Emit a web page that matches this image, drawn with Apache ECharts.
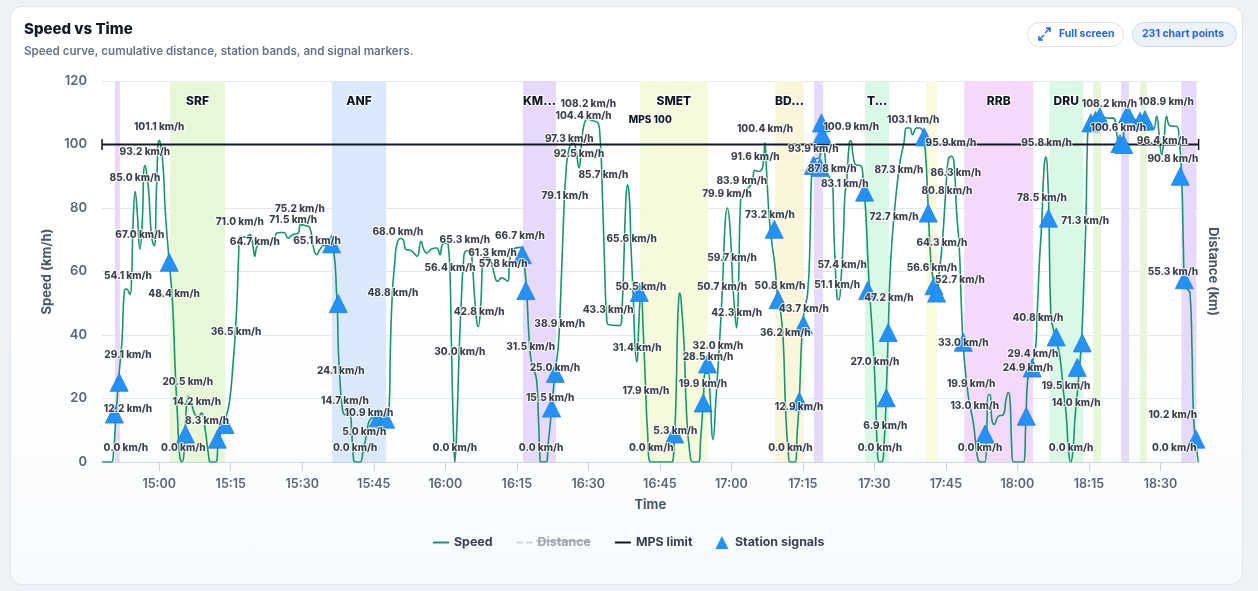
<!DOCTYPE html>
<html>
<head>
<meta charset="utf-8">
<title>Speed vs Time</title>
<style>
  html, body { margin: 0; padding: 0; width: 100%; height: 100%; background: #eef2f6; overflow: hidden; }
  #card { position: absolute; left: 10px; top: 6px; width: 1233px; height: 579px; box-sizing: border-box;
    border: 1px solid #dfe6ef; border-radius: 12px; background: linear-gradient(180deg, #ffffff 0%, #ffffff 55%, #f8fbfe 100%); }
  #chart { position: absolute; left: 0; top: 0; width: 1258px; height: 591px; }
</style>
<script src="https://cdn.jsdelivr.net/npm/echarts@6/dist/echarts.min.js"></script>
</head>
<body>
<div id="card"></div>
<div id="chart"></div>
<script>
// All times are minutes after 14:00.
const axisStartMinute = 48;
const axisEndMinute = 278;
const tickMinutes = [60, 75, 90, 105, 120, 135, 150, 165, 180, 195, 210, 225, 240, 255, 270];
const speedLimit = 100;
const limitLabelMinute = 163;

const speedMinutes = [
  48, 50, 50.4, 50.9, 51.6, 52.2, 52.7, 53.15, 53.85, 54.2, 54.5, 54.97, 55.4, 55.95, 56.4, 57, 57.7, 58.4, 58.95, 59.45,
  60, 60.7, 61.3, 62, 62.8, 63.35, 63.8, 64.3, 64.8, 65.25, 65.7, 66.1, 66.65, 67.35, 68.2, 68.9, 69.6, 70.3, 70.8, 71.8,
  72.4, 72.9, 73.8, 74.7, 75.5, 76, 76.35, 76.65, 76.9, 77.6, 78.3, 79, 79.6, 80.05, 80.55, 82, 83.5, 84.25, 84.6, 85.65,
  86.15, 87.05, 87.95, 89.15, 89.65, 90.55, 91.6, 92.3, 93, 93.7, 94.4, 95.8, 96.65, 97.2, 97.4, 97.55, 97.9, 98.45, 98.95, 100,
  100.35, 100.7, 101.05, 102.1, 102.8, 103.5, 104.2, 108.2, 108.5, 108.9, 109.4, 109.9, 110.7, 111.2, 111.75, 112.7, 113.4, 114.1, 114.9, 115.5,
  116.1, 117.1, 118.2, 118.9, 119.4, 120.3, 120.6, 120.97, 121.3, 121.7, 122, 122.4, 122.9, 123.4, 123.75, 124.25, 125.2, 125.7, 126.2, 126.9,
  127.4, 127.75, 127.95, 129, 129.7, 130.4, 130.95, 131.8, 133.1, 133.55, 134.25, 135.65, 136.15, 136.7, 137.05, 137.6, 138.1, 139.15, 139.5, 139.85,
  140, 141.1, 141.6, 142.3, 143, 143.7, 144.2, 144.8, 145.3, 146, 146.9, 147.35, 148.05, 148.6, 149.1, 149.85, 150.7, 152.1, 152.45, 152.8,
  153.5, 153.85, 154.2, 156.65, 157.1, 157.5, 157.85, 158.2, 158.6, 158.95, 159.45, 159.8, 160.2, 160.55, 160.85, 161.1, 161.5, 161.95, 162.4, 163.1,
  167.5, 168, 168.4, 168.7, 169, 169.2, 169.6, 170.1, 170.6, 171.3, 171.9, 173.1, 173.55, 174.1, 174.6, 175.2, 175.5, 176.15, 176.8, 177.6,
  178.2, 178.7, 179.15, 179.7, 180.25, 180.75, 181.1, 181.5, 181.95, 183.2, 184.3, 184.95, 185.65, 186.35, 186.7, 187.05, 187.4, 188.1, 189.15, 189.7,
  190.3, 190.9, 191.4, 191.95, 192.3, 193.35, 193.8, 194.25, 194.75, 195.2, 196, 196.5, 196.85, 197.5, 198.45, 199.1, 199.65, 200, 200.7, 201.25,
  201.5, 201.8, 202.2, 202.55, 203, 203.5, 203.8, 204.2, 204.75, 205.1, 205.55, 206.15, 207.2, 207.65, 208.2, 208.7, 209.2, 209.75, 210.25, 210.6,
  211, 211.5, 212, 212.55, 212.9, 213.4, 214.3, 215.35, 216.2, 216.75, 217.45, 218, 218.85, 219.55, 220.25, 220.8, 221.15, 221.65, 222, 222.35,
  222.9, 223.75, 224.3, 225, 225.5, 226.2, 226.7, 227.25, 227.8, 228.3, 228.8, 229.7, 230.75, 231.6, 232.15, 233.2, 233.55, 233.9, 234.25, 234.65,
  235.1, 236, 237.05, 237.6, 238.1, 238.45, 238.8, 239.15, 241.25, 241.75, 242.15, 243, 243.7, 244.15, 244.6, 245.1, 245.6, 246, 246.35, 246.6,
  247, 247.9, 248.9, 249.6, 250.2, 250.7, 251.15, 251.6, 252.05, 252.8, 253.45, 253.95, 254.4, 254.65, 255, 256.25, 257.3, 259.05, 260.1, 260.8,
  261.5, 262.05, 262.55, 263.05, 264.3, 265, 265.7, 266.75, 267.8, 268.5, 269.2, 269.75, 270.25, 270.75, 271.3, 272, 273.4, 273.95, 274.45, 274.8,
  275, 275.5, 276.2, 276.6, 276.9, 277.25, 277.95
];
const speedValues = [
  0, 0, 2.8, 13.9, 28, 38.5, 54.1, 54.5, 52.7, 57.4, 74.2, 85.2, 78.4, 67.1, 74.2, 93.4, 86.8, 71, 68.1, 86.8,
  101.3, 95.2, 78.4, 64.8, 50, 29, 15.4, 1.8, 0, 3.9, 17.5, 20.7, 19.6, 15.4, 14.4, 15.4, 10.7, 2.8, 0, 0,
  6, 9.1, 13.3, 18.6, 31.2, 41.7, 52.2, 64.8, 71.1, 70.8, 70.9, 71.6, 68.5, 64.8, 68, 69, 69, 70, 72.1, 72.3,
  72.3, 70.5, 71.6, 72.1, 74.75, 74.5, 73.7, 67.9, 65.3, 66.9, 68.1, 68.4, 65.8, 53.2, 46.9, 36.4, 25.9, 16.5, 14.9, 14.8,
  10.2, 1.8, 0, 0, 3.9, 8.6, 13.3, 16.5, 36.4, 53.2, 62.7, 69, 70.4, 70, 66.9, 66.7, 65.8, 64.8, 69.5, 66.9,
  65.8, 67.1, 67.4, 65.3, 68.5, 69, 68.5, 60.6, 36.4, 10.2, 0, 10.2, 34.3, 52.2, 61.6, 66.4, 66.6, 61.6, 51.1, 42.7,
  48, 61.6, 64.3, 64.3, 62.7, 58.5, 56.9, 58, 56.9, 63.7, 66.9, 67.6, 66.9, 60.6, 54.3, 38.5, 31.2, 25.9, 15.4, 1.8,
  0, 0, 6, 16.5, 28, 36.4, 52.2, 76.3, 91, 98.9, 100.5, 98.9, 92.6, 100.5, 106.2, 108, 107.6, 106.6, 102.6, 92,
  57.4, 45.4, 43.3, 43, 49, 65.8, 81.6, 87.3, 83.7, 67.9, 51.1, 36.4, 31.5, 41.7, 51.1, 52.2, 41.7, 25.9, 10.2, 0,
  0, 6.5, 20.7, 41.7, 52.2, 53.2, 48, 36.4, 15.4, 2.8, 0, 0, 7, 18.6, 28, 28, 21.7, 7.2, 20.7, 39.6,
  57.4, 75.3, 80, 74.2, 57.4, 46.9, 42.2, 55.3, 82.6, 85.6, 87.9, 91.9, 91.5, 92, 94.2, 100.5, 91, 74.2, 61.6, 52.2,
  48, 37.5, 15.4, 2.8, 0, 0, 9.1, 19.6, 38.5, 46.9, 53.2, 70, 91, 95.4, 95.8, 103.1, 96.3, 91.5, 89.4, 87.9,
  73.2, 61.6, 51.7, 51.1, 57.4, 71.1, 83.7, 88.9, 100.5, 101.2, 96.3, 93.6, 93.3, 88.9, 78.4, 61.6, 49, 36.4, 20.7, 4.9,
  0, 0, 4.9, 23.8, 40.6, 62.7, 80.5, 94.2, 100.5, 105.2, 105.2, 103.1, 105.2, 105.2, 103.1, 95.2, 84.7, 67.9, 60.6, 57.4,
  52.2, 61.6, 70, 85.8, 95.2, 96.3, 94.2, 78.4, 67.9, 46.9, 33.3, 20.7, 12.3, 1.8, 0, 0, 9.1, 21.2, 21.2, 13.3,
  11.8, 14.4, 14.9, 19.6, 21.9, 19.6, 4.9, 0, 0, 12.3, 25.9, 31.2, 34.3, 46.9, 62.7, 75.3, 93.1, 96.1, 90, 78.4,
  46.9, 39.6, 33.3, 22.8, 15.4, 3.9, 0, 2.8, 13.3, 25.9, 38.5, 57.4, 78.4, 99.4, 107.3, 108.3, 108.9, 108.3, 108.3, 103.6,
  99.4, 100.5, 107.8, 108.9, 108.3, 107.3, 106.8, 107.8, 104.7, 104.7, 108.9, 102.6, 96.8, 101.5, 108.9, 105.9, 105.7, 101.5, 90, 67.9,
  57.4, 54.8, 53.2, 36.4, 15.4, 8.1, 0
];

const signalMinutes = [
  50.6, 51.6, 62.1, 65.5, 72.2, 73.8, 96.15, 97.55, 105.95, 107.5, 136.15, 136.9, 142.3, 143.1, 160.7, 168.1, 174.1, 175,
  189, 189.8, 195.1, 194.25, 199.05, 198.9, 197.2, 198.6, 207.95, 208.6, 212.9, 212.5, 220.45, 221.3, 222.5, 223.05, 228.65,
  233.2, 241.85, 243.1, 246.5, 248.15, 252.55, 253.6, 255.4, 256.4, 257.3, 263.1, 261.5, 262.3, 266.75, 265.7, 274.15, 275, 277.45
];
const signalValues = [
  15.1, 25.1, 62.9, 8.8, 7.2, 11.8, 68.7, 49.9, 13.9, 13.5, 65.3, 54, 17, 27.9, 53.4, 8.8, 18.6, 30.9,
  73.3, 51.1, 43.2, 19.1, 103.1, 106.8, 93.4, 92.8, 85, 54, 40.8, 20.2, 102.4, 78.4, 55.5, 53.2, 37.7,
  8.8, 14.4, 29.6, 76.8, 39.4, 29.8, 37.5, 106.8, 107.6, 108.7, 109.6, 100.3, 100, 107.8, 107.3, 90, 57.4, 7.2
];

const labelMinutes = [
  53, 53.45, 53.45, 53.45, 55.95, 54.9, 57, 60, 63.1, 66, 67.9, 70.05, 65.05, 76.1, 76.9, 80.05, 88.1, 89.5, 93.1,
  98.1, 98.95, 104, 103, 101.1, 109, 110.05, 121, 123.05, 122, 124.1, 127.1, 129.9, 132.15, 135.65, 137.9,
  144, 143, 142, 140.1, 145.1, 146, 148.05, 149, 150, 153.15, 154.15, 159.1, 161.05, 160.2, 162.1, 163.2, 168.25,
  174.05, 175.1, 177.2, 178.05, 180.15, 181.1, 179.1, 182.2, 185, 187.05, 188.1, 190.2, 195.2, 191.3, 194.2, 192.4,
  197.2, 201.15, 203.8, 205.15, 203.25, 202.2, 213.05, 210.1, 212.3, 211.15, 214.1, 215.15, 218.15, 226.05, 225.2, 224.15, 222.05, 227.95, 227.1, 228.65,
  230.3, 231.05, 232.15, 246.1, 245.15, 244.3, 243.25, 242.2, 254.2, 250.2, 252.3, 251.25, 259.3, 261.15, 271.2, 270.4, 272.6, 272.6, 272.6, 272.9
];
const labelValues = [
  0, 12.2, 29.1, 54.1, 67, 85, 93.2, 101.1, 48.4, 20.5, 14.2, 8.3, 0, 36.5, 71, 64.7, 71.5, 75.2, 65.1,
  24.1, 14.7, 10.9, 5, 0, 48.8, 68, 56.4, 30, 0, 65.3, 42.8, 61.3, 57.8, 66.7, 31.5,
  38.9, 25, 15.5, 0, 79.1, 97.3, 92.5, 104.4, 108.2, 85.7, 43.3, 65.6, 50.5, 31.4, 17.9, 0, 5.3,
  19.9, 28.5, 32, 50.7, 59.7, 42.3, 79.9, 83.9, 91.6, 100.4, 73.2, 50.8, 43.7, 36.2, 12.9, 0,
  93.9, 87.8, 83.1, 100.9, 57.4, 51.1, 47.2, 27, 6.9, 0, 72.7, 87.3, 103.1, 95.9, 80.8, 64.3, 56.6, 52.7, 86.3, 33,
  19.9, 13, 0, 95.8, 78.5, 40.8, 29.4, 24.9, 71.3, 19.5, 14, 0, 108.2, 100.6, 108.9, 96.4, 90.8, 55.3, 10.2, 0
];

const bandNames = ['', 'SRF', 'ANF', 'KM...', 'SMET', 'BD...', '', 'T...', '', 'RRB', 'DRU', '', '', '', ''];
const bandStarts = [50.7, 62.25, 96.25, 136.3, 160.85, 189.2, 197.35, 208.05, 220.85, 228.85, 246.7, 255.9, 261.75, 265.7, 274.4];
const bandEnds = [51.75, 73.8, 107.55, 143.2, 175.05, 195.2, 199.25, 213.1, 223.15, 243.3, 253.8, 257.55, 263.4, 267.15, 277.55];
const bandColors = ['#ead8fb', '#e6f8d8', '#d9e8fb', '#e6d9fb', '#f4fadb', '#f9f6dc', '#e6d9fb', '#daf8e6', '#fafadc', '#f5d9fb', '#daf8e6', '#e6f8d8', '#e6d9fb', '#e6f8d8', '#e6d9fb'];

const FONT = 'Inter, "Noto Sans", sans-serif';
const two = n => String(n).padStart(2, '0');

const chart = echarts.init(document.getElementById('chart'), null, { renderer: 'canvas' });

const iconStroke = { fill: 'none', stroke: '#2563eb', lineWidth: 1.5 };

chart.setOption({
  animation: false,
  backgroundColor: 'transparent',
  textStyle: { fontFamily: FONT },
  title: {
    text: 'Speed vs Time',
    subtext: 'Speed curve, cumulative distance, station bands, and signal markers.',
    left: 24, top: 22, padding: 0, itemGap: 9,
    textStyle: { fontFamily: FONT, fontSize: 15, fontWeight: 800, color: '#111827' },
    subtextStyle: { fontFamily: FONT, fontSize: 11.6, fontWeight: 600, color: '#64748b' }
  },
  grid: { left: 102, top: 81, width: 1096.6, height: 381, containLabel: false },
  legend: {
    bottom: 37, left: 427, itemWidth: 16, itemHeight: 13, itemGap: 23,
    textStyle: { fontFamily: FONT, fontSize: 12.4, fontWeight: 700, color: '#374151' },
    inactiveColor: '#9ca3af', inactiveBorderColor: '#9ca3af',
    selected: { Distance: false },
    data: [
      { name: 'Speed', itemStyle: { opacity: 0 } },
      { name: 'Distance', itemStyle: { opacity: 0 }, lineStyle: { type: [6, 4], width: 1.8 } },
      { name: 'MPS limit', itemStyle: { opacity: 0 } },
      { name: 'Station signals', icon: 'path://M1 13L7.5 0L14 13Z', itemStyle: { borderWidth: 0 } }
    ]
  },
  xAxis: {
    type: 'value', min: axisStartMinute, max: axisEndMinute,
    name: 'Time', nameLocation: 'middle', nameGap: 37,
    nameTextStyle: { fontFamily: FONT, fontSize: 13, fontWeight: 700, color: '#475569' },
    axisLine: { onZero: false, lineStyle: { color: '#cbd5e1', width: 1 } },
    axisTick: { show: true, length: 9, lineStyle: { color: '#cbd5e1' }, customValues: tickMinutes },
    axisLabel: {
      fontFamily: FONT, fontSize: 12.5, fontWeight: 600, color: '#5b6577', margin: 16,
      customValues: tickMinutes,
      formatter: m => two(14 + Math.floor(m / 60)) + ':' + two(m % 60)
    },
    splitLine: { show: false }
  },
  yAxis: [
    {
      type: 'value', min: 0, max: 120, interval: 20,
      name: 'Speed (km/h)', nameLocation: 'middle', nameGap: 48,
      nameTextStyle: { fontFamily: FONT, fontSize: 13, fontWeight: 700, color: '#475569' },
      axisLine: { show: false }, axisTick: { show: false },
      axisLabel: { fontFamily: FONT, fontSize: 13, fontWeight: 600, color: '#5b6577', margin: 15 },
      splitLine: { lineStyle: { color: '#e2e8f0', width: 1 } }
    },
    {
      type: 'value', position: 'right', min: 0, max: 120, interval: 20,
      name: 'Distance (km)', nameLocation: 'middle', nameGap: 8, nameRotate: -90,
      nameTextStyle: { fontFamily: FONT, fontSize: 13, fontWeight: 700, color: '#475569' },
      axisLine: { show: false }, axisTick: { show: false }, axisLabel: { show: false }, splitLine: { show: false }
    }
  ],
  series: [
    {
      name: 'Bands', type: 'line', z: -1, data: [], silent: true, symbol: 'none',
      markArea: {
        silent: true,
        label: {
          show: true, position: 'insideTop', distance: 14, fontFamily: FONT, fontSize: 12, fontWeight: 800,
          color: '#111827', textBorderColor: '#ffffff', textBorderWidth: 2
        },
        data: bandNames.map((name, i) => [
          { name, xAxis: bandStarts[i], yAxis: 0, itemStyle: { color: bandColors[i], opacity: 1 } },
          { xAxis: bandEnds[i], yAxis: 120 }
        ])
      }
    },
    {
      name: 'Speed', type: 'line', z: 3, symbol: 'none', smooth: 0.5,
      lineStyle: { color: '#1a9470', width: 1.6 }, itemStyle: { color: '#1a9470' },
      data: speedMinutes.map((m, i) => [m, speedValues[i]])
    },
    {
      name: 'Distance', type: 'line', yAxisIndex: 1, symbol: 'none',
      lineStyle: { color: '#6b7280', type: 'dashed', width: 1.6 }, itemStyle: { color: '#6b7280' },
      data: []
    },
    {
      name: 'MPS limit', type: 'line', z: 4, symbol: 'none', clip: false, showAllSymbol: true,
      lineStyle: { color: '#111827', width: 2 }, itemStyle: { color: '#111827' },
      data: [
        { value: [axisStartMinute, speedLimit], symbol: 'rect', symbolSize: [1.5, 11] },
        {
          value: [limitLabelMinute, speedLimit], symbol: 'circle', symbolSize: 1,
          label: {
            show: true, position: 'top', distance: 19, formatter: 'MPS ' + speedLimit, fontFamily: FONT, fontSize: 10,
            fontWeight: 800, color: '#111827', textBorderColor: '#ffffff', textBorderWidth: 2
          }
        },
        { value: [axisEndMinute, speedLimit], symbol: 'rect', symbolSize: [1.5, 11] }
      ]
    },
    {
      name: 'Station signals', type: 'scatter', z: 5, symbol: 'triangle', symbolSize: 18, clip: false,
      itemStyle: { color: '#2492f5', opacity: 1, borderColor: '#1f7fe0', borderWidth: 0.8 },
      data: signalMinutes.map((m, i) => [m, signalValues[i]])
    },
    {
      name: 'Speed labels', type: 'scatter', z: 6, symbolSize: 1, silent: true, clip: false,
      itemStyle: { color: 'transparent' },
      label: {
        show: true, position: 'top', distance: 9,
        formatter: p => p.value[1].toFixed(1) + ' km/h',
        fontFamily: FONT, fontSize: 10, fontWeight: 800, color: '#0b1220',
        textBorderColor: '#ffffff', textBorderWidth: 2
      },
      labelLayout: { hideOverlap: false },
      data: labelMinutes.map((m, i) => [m, labelValues[i]])
    }
  ],
  graphic: [
    { type: 'line', silent: true, z: 100, shape: { x1: 536, y1: 541, x2: 589, y2: 541 }, style: { stroke: '#9ca3af', lineWidth: 1 } },
    { type: 'rect', silent: true, shape: { x: 1027.5, y: 22.5, width: 96, height: 24, r: 12 }, style: { fill: '#ffffff', stroke: '#d6e0ee', lineWidth: 1 } },
    { type: 'line', silent: true, shape: { x1: 1039, y1: 40, x2: 1044, y2: 35 }, style: iconStroke },
    { type: 'polyline', silent: true, shape: { points: [[1039, 36], [1039, 40], [1043, 40]] }, style: iconStroke },
    { type: 'line', silent: true, shape: { x1: 1050, y1: 28, x2: 1045, y2: 33 }, style: iconStroke },
    { type: 'polyline', silent: true, shape: { points: [[1046, 28], [1050, 28], [1050, 32]] }, style: iconStroke },
    { type: 'text', silent: true, style: { x: 1059, y: 33.5, text: 'Full screen', fill: '#2563eb', font: '700 10.5px ' + FONT, textVerticalAlign: 'middle' } },
    { type: 'rect', silent: true, shape: { x: 1132.5, y: 22.5, width: 104, height: 24, r: 12 }, style: { fill: '#edf3fc', stroke: '#cbd9ee', lineWidth: 1 } },
    { type: 'text', silent: true, style: { x: 1142, y: 33.5, text: '231 chart points', fill: '#2563eb', font: '700 10.5px ' + FONT, textVerticalAlign: 'middle' } }
  ]
});
</script>
</body>
</html>
